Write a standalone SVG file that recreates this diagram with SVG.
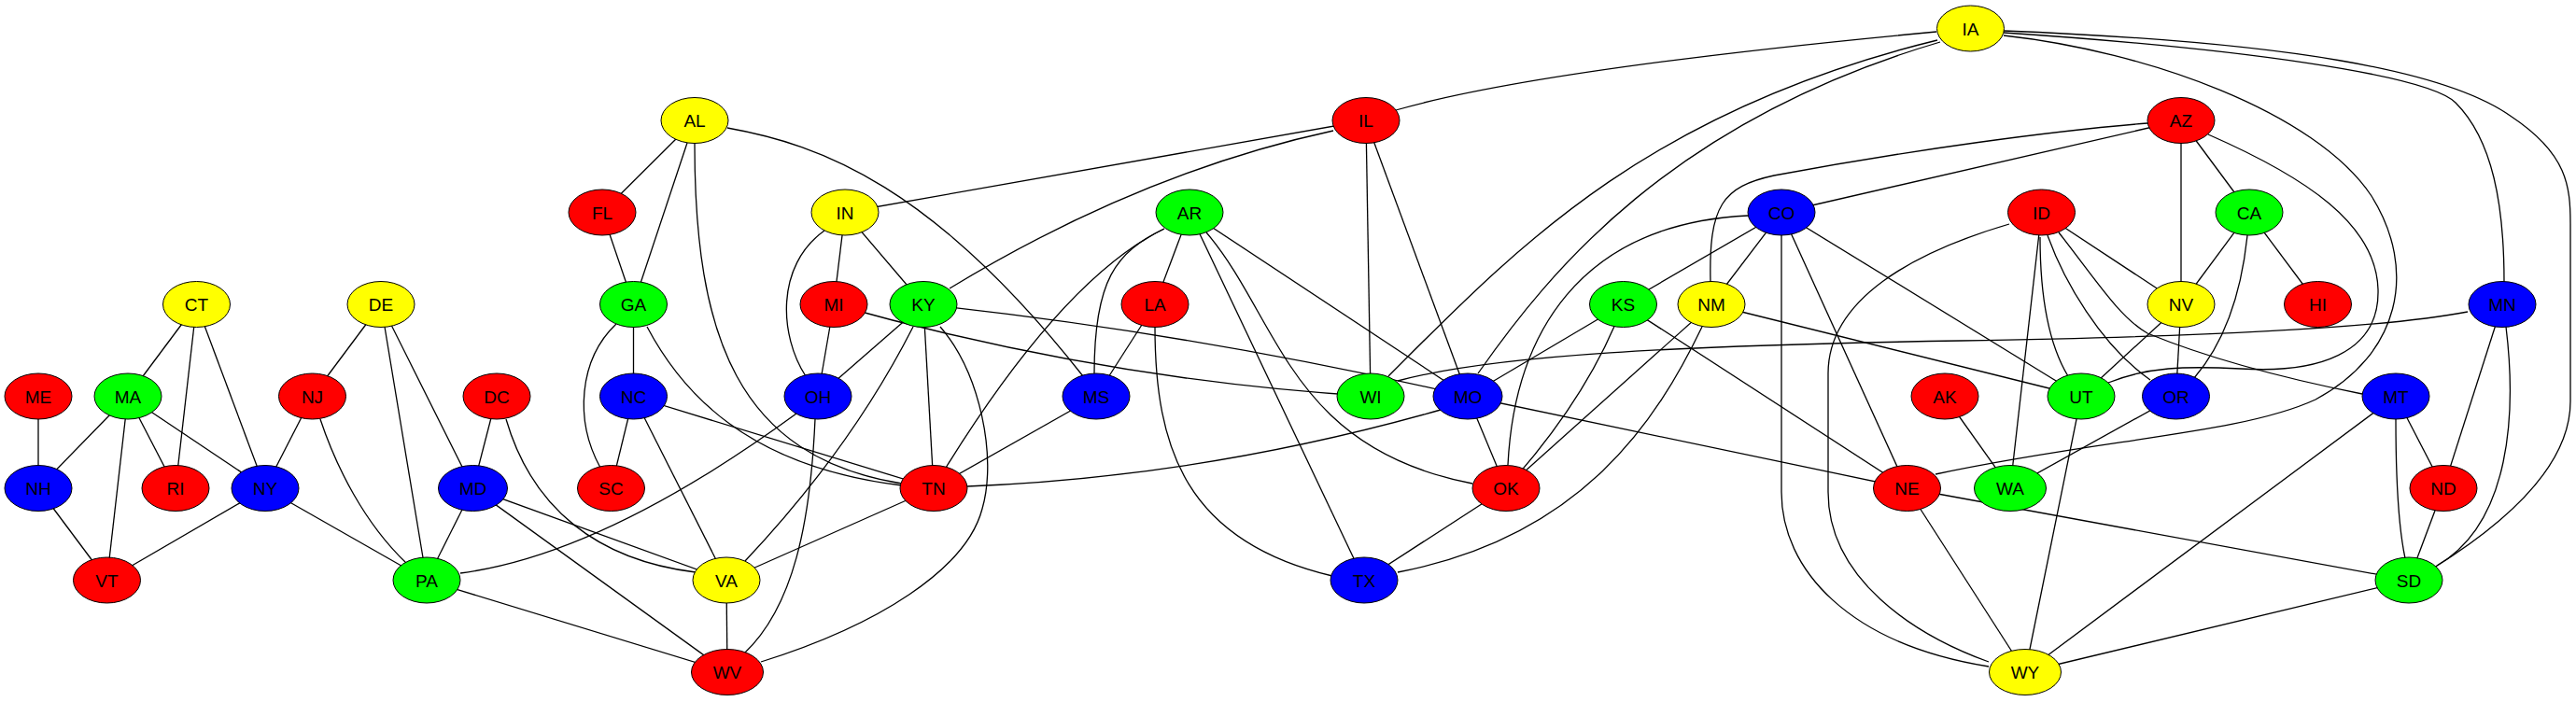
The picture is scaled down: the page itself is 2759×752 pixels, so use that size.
<svg xmlns="http://www.w3.org/2000/svg" width="2759" height="752" viewBox="0 0 2759 752">
<style>
.e{fill:none;stroke:#000;stroke-width:1.3}
.n ellipse{stroke:#000;stroke-width:1}
.n text{font-family:"Liberation Sans",Arial,sans-serif;font-size:19px;text-anchor:middle;fill:#000}
.r{fill:#ff0000}.g{fill:#00ff00}.b{fill:#0000ff}.y{fill:#ffff00}
</style>
<rect width="2759" height="752" fill="#fff"/>
<g id="edges">
<path class="e" d="M210.5,326L137,424.5"/>
<path class="e" d="M210.5,326L188,523"/>
<path class="e" d="M210.5,326L284,523"/>
<path class="e" d="M41,424.5L41,523"/>
<path class="e" d="M137,424.5L41,523"/>
<path class="e" d="M137,424.5L114.5,621.5"/>
<path class="e" d="M137,424.5L188,523"/>
<path class="e" d="M137,424.5L284,523"/>
<path class="e" d="M41,523L114.5,621.5"/>
<path class="e" d="M284,523L114.5,621.5"/>
<path class="e" d="M334.5,424.5L284,523"/>
<path class="e" d="M408,326L334.5,424.5"/>
<path class="e" d="M408,326L457,621.5"/>
<path class="e" d="M408,326L506.5,523"/>
<path class="e" d="M284,523L457,621.5"/>
<path class="e" d="M506.5,523L457,621.5"/>
<path class="e" d="M744,129L645,227.5"/>
<path class="e" d="M744,129L678.5,326"/>
<path class="e" d="M645,227.5L678.5,326"/>
<path class="e" d="M678.5,326L678.5,424.5"/>
<path class="e" d="M678.5,424.5L654.5,523"/>
<path class="e" d="M678.5,424.5L1000,523"/>
<path class="e" d="M678.5,424.5L778,621.5"/>
<path class="e" d="M532,424.5L506.5,523"/>
<path class="e" d="M506.5,523L778,621.5"/>
<path class="e" d="M506.5,523L779,720"/>
<path class="e" d="M457,621.5L779,720"/>
<path class="e" d="M778,621.5L779,720"/>
<path class="e" d="M905,227.5L893,326"/>
<path class="e" d="M905,227.5L989,326"/>
<path class="e" d="M893,326L876,424.5"/>
<path class="e" d="M989,326L876,424.5"/>
<path class="e" d="M1000,523L778,621.5"/>
<path class="e" d="M905,227.5L1463,129"/>
<path class="e" d="M989,326L1000,523"/>
<path class="e" d="M1274,227.5L1237,326"/>
<path class="e" d="M1274,227.5L1572,424.5"/>
<path class="e" d="M1274,227.5L1461,621.5"/>
<path class="e" d="M1237,326L1174,424.5"/>
<path class="e" d="M1174,424.5L1000,523"/>
<path class="e" d="M1463,129L1468,424.5"/>
<path class="e" d="M1463,129L1572,424.5"/>
<path class="e" d="M2336,129L1908,227.5"/>
<path class="e" d="M1738.5,326L1908,227.5"/>
<path class="e" d="M1833,326L1908,227.5"/>
<path class="e" d="M1738.5,326L1572,424.5"/>
<path class="e" d="M1738.5,326L2042.5,523"/>
<path class="e" d="M1833,326L1613,523"/>
<path class="e" d="M1833,326L2229,424.5"/>
<path class="e" d="M1572,424.5L1613,523"/>
<path class="e" d="M1572,424.5L2042.5,523"/>
<path class="e" d="M1613,523L1461,621.5"/>
<path class="e" d="M1908,227.5L2229,424.5"/>
<path class="e" d="M1908,227.5L2042.5,523"/>
<path class="e" d="M2186.5,227.5L2153,523"/>
<path class="e" d="M2186.5,227.5L2336,326"/>
<path class="e" d="M2083,424.5L2153,523"/>
<path class="e" d="M2229,424.5L2336,326"/>
<path class="e" d="M2229,424.5L2169,720"/>
<path class="e" d="M2330.5,424.5L2153,523"/>
<path class="e" d="M2042.5,523L2169,720"/>
<path class="e" d="M2042.5,523L2580,621.5"/>
<path class="e" d="M2169,720L2566,424.5"/>
<path class="e" d="M2169,720L2580,621.5"/>
<path class="e" d="M2336,129L2336,326"/>
<path class="e" d="M2336,129L2409,227.5"/>
<path class="e" d="M2409,227.5L2336,326"/>
<path class="e" d="M2409,227.5L2482.5,326"/>
<path class="e" d="M2336,326L2330.5,424.5"/>
<path class="e" d="M2680,326L2617,523"/>
<path class="e" d="M2566,424.5L2617,523"/>
<path class="e" d="M2617,523L2580,621.5"/>
<path class="e" d="M343,449C360,500 390,560 435,603"/>
<path class="e" d="M744,154C744,360 790,490 966,518"/>
<path class="e" d="M779,137C880,155 1000,200 1160,403"/>
<path class="e" d="M660,347C620,385 615,450 643,501"/>
<path class="e" d="M693,350C730,420 800,500 966,520"/>
<path class="e" d="M542,449C570,545 640,600 745,613"/>
<path class="e" d="M493,614C600,600 720,540 853,443"/>
<path class="e" d="M873,449C868,560 850,650 797,700"/>
<path class="e" d="M883,247C830,285 835,360 863,403"/>
<path class="e" d="M798,601Q912,480 978,350"/>
<path class="e" d="M1007,350C1050,400 1068,490 1052,545C1035,610 940,670 815,709"/>
<path class="e" d="M1017,309Q1221,185 1428,140"/>
<path class="e" d="M1247,245C1195,270 1172,300 1172,400"/>
<path class="e" d="M1247,245C1165,285 1085,385 1013,501"/>
<path class="e" d="M1292,249C1370,340 1380,480 1577,518"/>
<path class="e" d="M1237,350C1237,480 1270,580 1427,617"/>
<path class="e" d="M1036,521Q1290,511 1543,439"/>
<path class="e" d="M989,326Q1280,357 1572,424.5"/>
<path class="e" d="M893,326Q1180,407 1468,424.5"/>
<path class="e" d="M1495,118C1620,82 1850,55 2074,34"/>
<path class="e" d="M1487,403C1620,270 1760,120 2075,43"/>
<path class="e" d="M1583,400C1660,290 1790,130 2078,45"/>
<path class="e" d="M1615,498C1622,360 1690,240 1872,231"/>
<path class="e" d="M1832,302C1830,220 1845,200 1900,188C2050,160 2200,140 2300,132"/>
<path class="e" d="M1738.5,326Q1702,424.5 1613,523"/>
<path class="e" d="M1823,350C1775,450 1695,575 1497,613"/>
<path class="e" d="M1497,408C1600,380 1800,370 2100,365C2350,361 2550,352 2643,334"/>
<path class="e" d="M2146,33C2450,45 2620,75 2690,125C2750,165 2753,200 2753,240L2753,430C2753,490 2700,550 2607,608"/>
<path class="e" d="M2146,35C2400,52 2600,80 2630,110C2670,150 2682,220 2682,302"/>
<path class="e" d="M2146,38C2300,55 2480,120 2540,210C2590,290 2570,380 2480,428C2400,465 2250,470 2073,508"/>
<path class="e" d="M2365,144C2470,190 2545,240 2547,310C2549,380 2480,400 2400,395C2340,392 2300,393 2258,410"/>
<path class="e" d="M2205,249C2245,300 2270,340 2300,357C2380,390 2470,410 2530,422"/>
<path class="e" d="M2152,240C2050,270 1958,320 1958,400L1958,527C1958,620 2050,680 2130,709"/>
<path class="e" d="M2185,254C2185,320 2195,370 2215,403"/>
<path class="e" d="M2193,252C2210,300 2250,370 2303,407"/>
<path class="e" d="M1908,252L1908,527C1908,610 1980,690 2130,714"/>
<path class="e" d="M2407,252C2400,320 2380,370 2350,405"/>
<path class="e" d="M2684,350C2695,440 2690,560 2610,606"/>
<path class="e" d="M2566,449C2566,530 2570,570 2576,598"/>
</g>
<g id="node-IA" class="n"><ellipse class="y" cx="2110.5" cy="30.5" rx="36" ry="24.5"/><text x="2110.5" y="37.5">IA</text></g>
<g id="node-AL" class="n"><ellipse class="y" cx="744" cy="129" rx="36" ry="24.5"/><text x="744" y="136">AL</text></g>
<g id="node-IL" class="n"><ellipse class="r" cx="1463" cy="129" rx="36" ry="24.5"/><text x="1463" y="136">IL</text></g>
<g id="node-AZ" class="n"><ellipse class="r" cx="2336" cy="129" rx="36" ry="24.5"/><text x="2336" y="136">AZ</text></g>
<g id="node-FL" class="n"><ellipse class="r" cx="645" cy="227.5" rx="36" ry="24.5"/><text x="645" y="234.5">FL</text></g>
<g id="node-IN" class="n"><ellipse class="y" cx="905" cy="227.5" rx="36" ry="24.5"/><text x="905" y="234.5">IN</text></g>
<g id="node-AR" class="n"><ellipse class="g" cx="1274" cy="227.5" rx="36" ry="24.5"/><text x="1274" y="234.5">AR</text></g>
<g id="node-CO" class="n"><ellipse class="b" cx="1908" cy="227.5" rx="36" ry="24.5"/><text x="1908" y="234.5">CO</text></g>
<g id="node-ID" class="n"><ellipse class="r" cx="2186.5" cy="227.5" rx="36" ry="24.5"/><text x="2186.5" y="234.5">ID</text></g>
<g id="node-CA" class="n"><ellipse class="g" cx="2409" cy="227.5" rx="36" ry="24.5"/><text x="2409" y="234.5">CA</text></g>
<g id="node-CT" class="n"><ellipse class="y" cx="210.5" cy="326" rx="36" ry="24.5"/><text x="210.5" y="333">CT</text></g>
<g id="node-DE" class="n"><ellipse class="y" cx="408" cy="326" rx="36" ry="24.5"/><text x="408" y="333">DE</text></g>
<g id="node-GA" class="n"><ellipse class="g" cx="678.5" cy="326" rx="36" ry="24.5"/><text x="678.5" y="333">GA</text></g>
<g id="node-MI" class="n"><ellipse class="r" cx="893" cy="326" rx="36" ry="24.5"/><text x="893" y="333">MI</text></g>
<g id="node-KY" class="n"><ellipse class="g" cx="989" cy="326" rx="36" ry="24.5"/><text x="989" y="333">KY</text></g>
<g id="node-LA" class="n"><ellipse class="r" cx="1237" cy="326" rx="36" ry="24.5"/><text x="1237" y="333">LA</text></g>
<g id="node-KS" class="n"><ellipse class="g" cx="1738.5" cy="326" rx="36" ry="24.5"/><text x="1738.5" y="333">KS</text></g>
<g id="node-NM" class="n"><ellipse class="y" cx="1833" cy="326" rx="36" ry="24.5"/><text x="1833" y="333">NM</text></g>
<g id="node-NV" class="n"><ellipse class="y" cx="2336" cy="326" rx="36" ry="24.5"/><text x="2336" y="333">NV</text></g>
<g id="node-HI" class="n"><ellipse class="r" cx="2482.5" cy="326" rx="36" ry="24.5"/><text x="2482.5" y="333">HI</text></g>
<g id="node-MN" class="n"><ellipse class="b" cx="2680" cy="326" rx="36" ry="24.5"/><text x="2680" y="333">MN</text></g>
<g id="node-ME" class="n"><ellipse class="r" cx="41" cy="424.5" rx="36" ry="24.5"/><text x="41" y="431.5">ME</text></g>
<g id="node-MA" class="n"><ellipse class="g" cx="137" cy="424.5" rx="36" ry="24.5"/><text x="137" y="431.5">MA</text></g>
<g id="node-NJ" class="n"><ellipse class="r" cx="334.5" cy="424.5" rx="36" ry="24.5"/><text x="334.5" y="431.5">NJ</text></g>
<g id="node-DC" class="n"><ellipse class="r" cx="532" cy="424.5" rx="36" ry="24.5"/><text x="532" y="431.5">DC</text></g>
<g id="node-NC" class="n"><ellipse class="b" cx="678.5" cy="424.5" rx="36" ry="24.5"/><text x="678.5" y="431.5">NC</text></g>
<g id="node-OH" class="n"><ellipse class="b" cx="876" cy="424.5" rx="36" ry="24.5"/><text x="876" y="431.5">OH</text></g>
<g id="node-MS" class="n"><ellipse class="b" cx="1174" cy="424.5" rx="36" ry="24.5"/><text x="1174" y="431.5">MS</text></g>
<g id="node-WI" class="n"><ellipse class="g" cx="1468" cy="424.5" rx="36" ry="24.5"/><text x="1468" y="431.5">WI</text></g>
<g id="node-MO" class="n"><ellipse class="b" cx="1572" cy="424.5" rx="37" ry="24.5"/><text x="1572" y="431.5">MO</text></g>
<g id="node-AK" class="n"><ellipse class="r" cx="2083" cy="424.5" rx="36" ry="24.5"/><text x="2083" y="431.5">AK</text></g>
<g id="node-UT" class="n"><ellipse class="g" cx="2229" cy="424.5" rx="36" ry="24.5"/><text x="2229" y="431.5">UT</text></g>
<g id="node-OR" class="n"><ellipse class="b" cx="2330.5" cy="424.5" rx="36" ry="24.5"/><text x="2330.5" y="431.5">OR</text></g>
<g id="node-MT" class="n"><ellipse class="b" cx="2566" cy="424.5" rx="36" ry="24.5"/><text x="2566" y="431.5">MT</text></g>
<g id="node-NH" class="n"><ellipse class="b" cx="41" cy="523" rx="36" ry="24.5"/><text x="41" y="530">NH</text></g>
<g id="node-RI" class="n"><ellipse class="r" cx="188" cy="523" rx="36" ry="24.5"/><text x="188" y="530">RI</text></g>
<g id="node-NY" class="n"><ellipse class="b" cx="284" cy="523" rx="36" ry="24.5"/><text x="284" y="530">NY</text></g>
<g id="node-MD" class="n"><ellipse class="b" cx="506.5" cy="523" rx="37" ry="24.5"/><text x="506.5" y="530">MD</text></g>
<g id="node-SC" class="n"><ellipse class="r" cx="654.5" cy="523" rx="36" ry="24.5"/><text x="654.5" y="530">SC</text></g>
<g id="node-TN" class="n"><ellipse class="r" cx="1000" cy="523" rx="36" ry="24.5"/><text x="1000" y="530">TN</text></g>
<g id="node-OK" class="n"><ellipse class="r" cx="1613" cy="523" rx="36" ry="24.5"/><text x="1613" y="530">OK</text></g>
<g id="node-NE" class="n"><ellipse class="r" cx="2042.5" cy="523" rx="36" ry="24.5"/><text x="2042.5" y="530">NE</text></g>
<g id="node-WA" class="n"><ellipse class="g" cx="2153" cy="523" rx="38.5" ry="24.5"/><text x="2153" y="530">WA</text></g>
<g id="node-ND" class="n"><ellipse class="r" cx="2617" cy="523" rx="36" ry="24.5"/><text x="2617" y="530">ND</text></g>
<g id="node-VT" class="n"><ellipse class="r" cx="114.5" cy="621.5" rx="36" ry="24.5"/><text x="114.5" y="628.5">VT</text></g>
<g id="node-PA" class="n"><ellipse class="g" cx="457" cy="621.5" rx="36" ry="24.5"/><text x="457" y="628.5">PA</text></g>
<g id="node-VA" class="n"><ellipse class="y" cx="778" cy="621.5" rx="36" ry="24.5"/><text x="778" y="628.5">VA</text></g>
<g id="node-TX" class="n"><ellipse class="b" cx="1461" cy="621.5" rx="36" ry="24.5"/><text x="1461" y="628.5">TX</text></g>
<g id="node-SD" class="n"><ellipse class="g" cx="2580" cy="621.5" rx="36" ry="24.5"/><text x="2580" y="628.5">SD</text></g>
<g id="node-WV" class="n"><ellipse class="r" cx="779" cy="720" rx="38.5" ry="24.5"/><text x="779" y="727">WV</text></g>
<g id="node-WY" class="n"><ellipse class="y" cx="2169" cy="720" rx="38.5" ry="24.5"/><text x="2169" y="727">WY</text></g>
</svg>
